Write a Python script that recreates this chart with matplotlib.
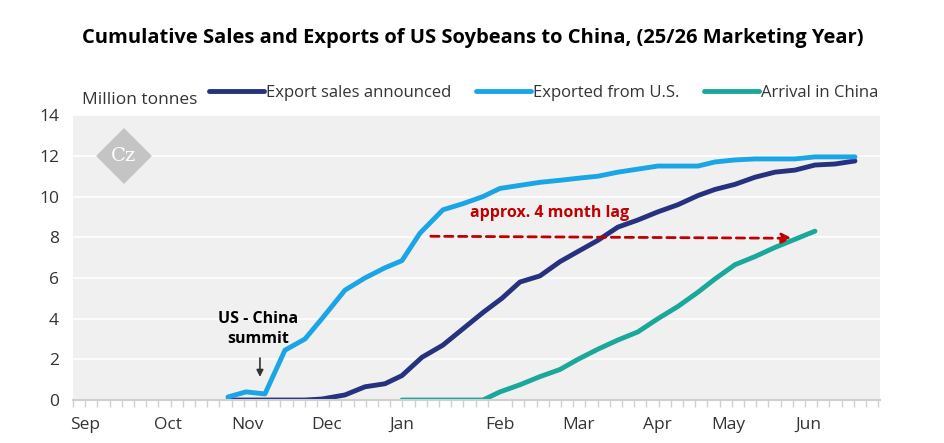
import matplotlib
matplotlib.use("Agg")
import matplotlib.pyplot as plt
from matplotlib.patches import RegularPolygon

plt.rcParams['font.family'] = ['Open Sans', 'DejaVu Sans']

def px(v):
    return [(p - 73) / 12.2 for p in v]

months = ['Sep', 'Oct', 'Nov', 'Dec', 'Jan', 'Feb', 'Mar', 'Apr', 'May', 'Jun']
month_px = [85, 168, 247, 327, 402, 500, 579, 657, 728, 808]

exp_px = [228, 246, 265, 285, 305, 322, 345, 365, 385, 402, 420, 443, 463, 483, 500, 520, 540, 560,
          578, 598, 618, 638, 658, 678, 698, 715, 735, 755, 775, 795, 815, 835, 855]
exported = [0.15, 0.4, 0.3, 2.45, 3.0, 4.0, 5.4, 6.0, 6.5, 6.85, 8.2, 9.35, 9.65, 10.0, 10.4, 10.55,
            10.7, 10.8, 10.9, 11.0, 11.2, 11.35, 11.5, 11.5, 11.5, 11.7, 11.8, 11.85, 11.85, 11.85,
            11.95, 11.95, 11.95]

sales_px = [228, 246, 265, 285, 305, 322, 345, 365, 385, 402, 422, 443, 463, 483, 502, 520, 540, 560,
            578, 598, 618, 638, 658, 678, 698, 715, 735, 755, 775, 795, 815, 835, 855]
sales = [0, 0, 0, 0, 0, 0.05, 0.25, 0.65, 0.8, 1.2, 2.1, 2.7, 3.5, 4.3, 5.0, 5.8, 6.1, 6.8, 7.3, 7.85,
         8.5, 8.85, 9.25, 9.6, 10.05, 10.35, 10.6, 10.95, 11.2, 11.3, 11.55, 11.6, 11.75]

arr_px = [402, 422, 443, 463, 483, 500, 520, 540, 560, 578, 598, 618, 638, 658, 678, 698, 715, 735,
          755, 775, 795, 815]
arrival = [0, 0, 0, 0, 0, 0.4, 0.75, 1.15, 1.5, 2.0, 2.5, 2.95, 3.35, 4.0, 4.6, 5.3, 5.95, 6.65, 7.05,
           7.5, 7.9, 8.3]

fig = plt.figure(figsize=(9.45, 4.43), dpi=100)
ax = fig.add_axes([0.0772, 0.097, 0.854, 0.643])
ax.set_facecolor('#f0f0f0')
ax.set_xlim(0, 66.15)
ax.set_ylim(0, 14)
ax.set_yticks(range(0, 15, 2))
ax.grid(axis='y', color='white', lw=1.2)
ax.set_axisbelow(True)
for s in ['top', 'right', 'left']:
    ax.spines[s].set_visible(False)
ax.spines['bottom'].set_color('#d0d0d0')
ax.spines['bottom'].set_linewidth(1.5)
ax.set_xticks(range(0, 67), minor=True)
ax.set_xticks(px(month_px))
ax.set_xticklabels(months)
ax.tick_params(axis='x', which='major', length=0, pad=12, labelsize=12.5, colors='#333333')
ax.tick_params(axis='x', which='minor', length=5, color='#d0d0d0', width=1)
ax.tick_params(axis='y', length=0, labelsize=12.5, colors='#333333', pad=10)

l1, = ax.plot(px(sales_px), sales, color='#26317f', lw=3.5, label='Export sales announced', solid_capstyle='round')
l2, = ax.plot(px(exp_px), exported, color='#1aa6e6', lw=3.5, label='Exported from U.S.', solid_capstyle='round')
l3, = ax.plot(px(arr_px), arrival, color='#19a89a', lw=3.5, label='Arrival in China', solid_capstyle='round')

ax.annotate('', xy=((795 - 73) / 12.2, 7.95), xytext=((428 - 73) / 12.2, 8.05),
            arrowprops=dict(arrowstyle='-|>', color='#c00000', lw=2.0, ls=(0, (3, 2)), mutation_scale=15))
ax.text((470 - 73) / 12.2, 9.0, 'approx. 4 month lag', color='#c00000', fontsize=11.5, fontweight='bold')
ax.text((258 - 73) / 12.2, 3.5, 'US - China\nsummit', ha='center', va='center', fontsize=11.5,
        fontweight='bold', linespacing=1.3)
ax.annotate('', xy=((260 - 73) / 12.2, 1.0), xytext=((260 - 73) / 12.2, 2.2),
            arrowprops=dict(arrowstyle='-|>', color='#333333', lw=1.2))

# logo
fig.patches.append(RegularPolygon((124, 443 - 156), 4, radius=27, orientation=0,
                                  transform=matplotlib.transforms.IdentityTransform(),
                                  color='#c4c4c4', figure=fig))
fig.text(124 / 945, 1 - 156 / 443, 'Cz', ha='center', va='center', color='white', fontsize=14,
         family='DejaVu Serif')

fig.text(0.5, 1 - 38 / 443, 'Cumulative Sales and Exports of US Soybeans to China, (25/26 Marketing Year)',
         ha='center', va='center', fontsize=14.5, fontweight='bold')
fig.text(82 / 945, 1 - 100 / 443, 'Million tonnes', ha='left', va='center', fontsize=12.5, color='#333333')
fig.legend(handles=[l1, l2, l3], loc='center right', bbox_to_anchor=(0.945, 1 - 93 / 443), ncol=3,
           frameon=False, fontsize=12, handlelength=3.3, handletextpad=0.1, columnspacing=1.5,
           labelcolor='#333333')

fig.savefig('out.png', dpi=100)
